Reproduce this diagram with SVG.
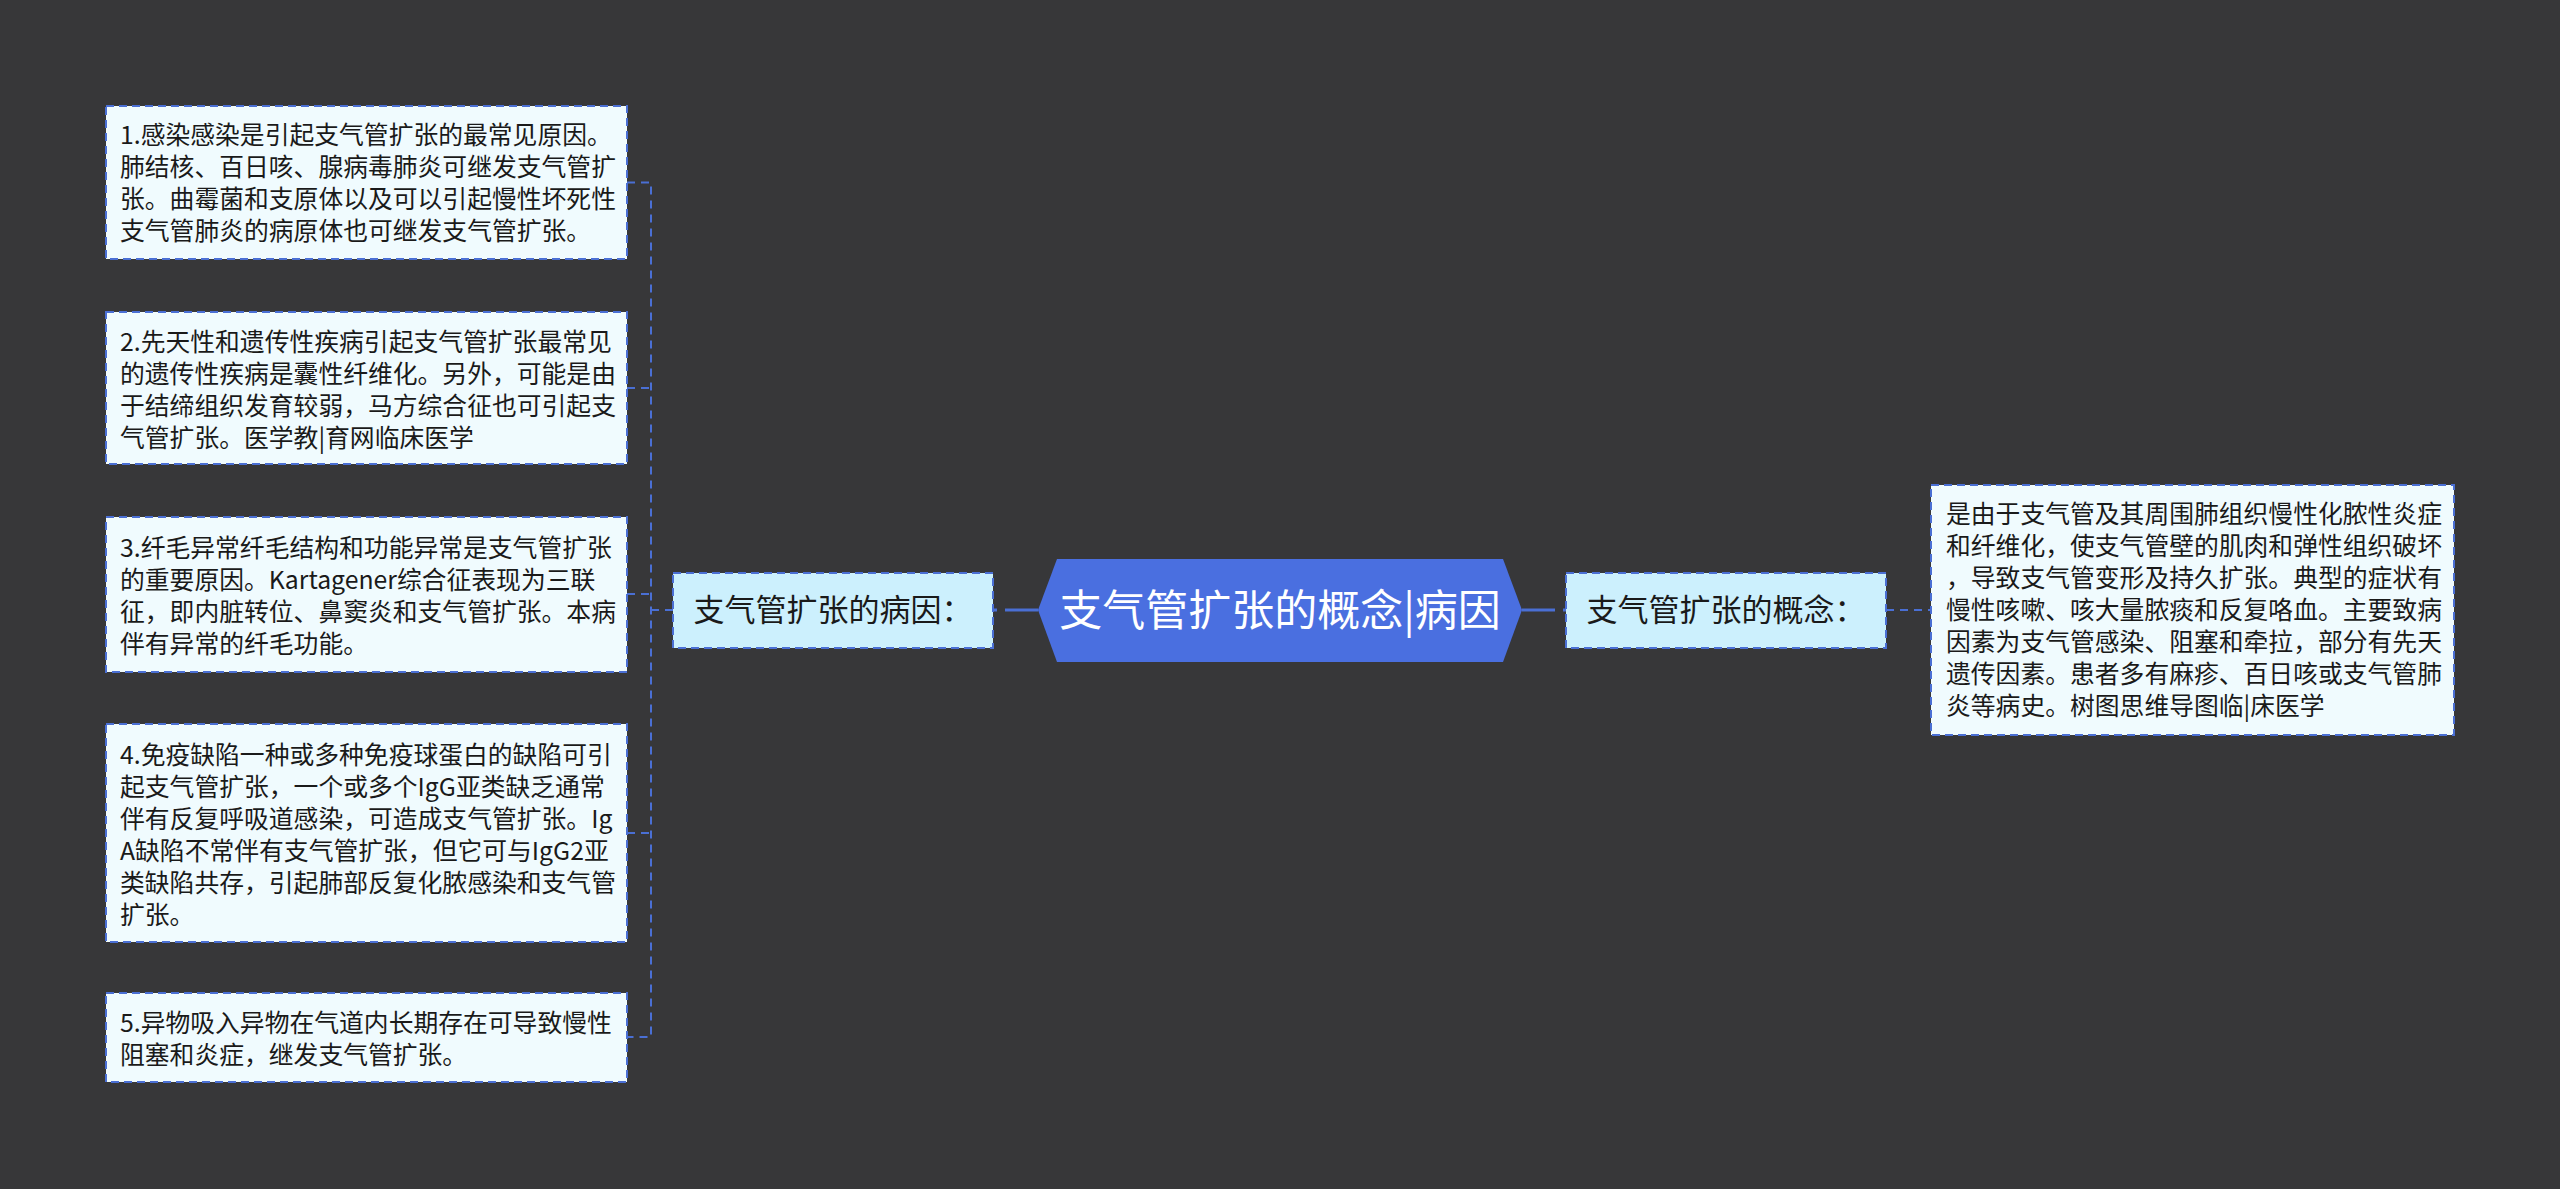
<svg xmlns="http://www.w3.org/2000/svg" width="2560" height="1189" viewBox="0 0 2560 1189">
<style>
.bg{fill:#373739}
.leaf{fill:#f0fbfe;stroke:#4a6fd4;stroke-width:2;stroke-dasharray:8 5}
.branch{fill:#ccf0fd;stroke:#4a6fd4;stroke-width:2;stroke-dasharray:8 5}
.root{fill:#4a6fe0}
.t{font-family:"Noto Sans CJK SC","Microsoft YaHei",sans-serif;fill:#1a1a1a}
.leaft{font-size:24.8px}
.brt{font-size:31px;text-anchor:middle}
.roott{font-size:43px;fill:#ffffff;text-anchor:middle}
.con{fill:none;stroke:#4a6fd4;stroke-width:2;stroke-dasharray:8 6}
.main{fill:none;stroke:#4a6fd4;stroke-width:3;stroke-dasharray:33 8}
</style>
<rect class="bg" x="0" y="0" width="2560" height="1189"/>
<g id="connectors">
<path class="con" d="M627,182.5 H651 V1037 H627"/>
<path class="con" d="M627,388 H651"/>
<path class="con" d="M627,594 H651"/>
<path class="con" d="M627,833 H651"/>
<path class="con" d="M651,610 H673"/>
<path class="main" d="M1038,610 H993"/>
<path class="main" d="M1522,610 H1566"/>
<path class="con" d="M1886,610 H1931"/>
</g>
<g id="root">
<polygon class="root" points="1038,610 1057,559 1503,559 1522,610 1503,662 1057,662"/>
<text class="t roott" x="1280" y="626">支气管扩张的概念|病因</text>
</g>
<g id="branch-cause">
<rect class="branch" x="673" y="573" width="320" height="75"/>
<text class="t brt" x="833" y="621">支气管扩张的病因：</text>
</g>
<g id="branch-concept">
<rect class="branch" x="1566" y="573" width="320" height="75"/>
<text class="t brt" x="1726" y="621">支气管扩张的概念：</text>
</g>
<g id="leaf1">
<rect class="leaf" x="106" y="106" width="521" height="153"/>
<text class="t leaft" x="120" y="144">1.感染感染是引起支气管扩张的最常见原因。</text>
<text class="t leaft" x="120" y="176">肺结核、百日咳、腺病毒肺炎可继发支气管扩</text>
<text class="t leaft" x="120" y="208">张。曲霉菌和支原体以及可以引起慢性坏死性</text>
<text class="t leaft" x="120" y="240">支气管肺炎的病原体也可继发支气管扩张。</text>
</g>
<g id="leaf2">
<rect class="leaf" x="106" y="312" width="521" height="152"/>
<text class="t leaft" x="120" y="351">2.先天性和遗传性疾病引起支气管扩张最常见</text>
<text class="t leaft" x="120" y="383">的遗传性疾病是囊性纤维化。另外，可能是由</text>
<text class="t leaft" x="120" y="415">于结缔组织发育较弱，马方综合征也可引起支</text>
<text class="t leaft" x="120" y="447">气管扩张。医学教|育网临床医学</text>
</g>
<g id="leaf3">
<rect class="leaf" x="106" y="517" width="521" height="155"/>
<text class="t leaft" x="120" y="557">3.纤毛异常纤毛结构和功能异常是支气管扩张</text>
<text class="t leaft" x="120" y="589">的重要原因。Kartagener综合征表现为三联</text>
<text class="t leaft" x="120" y="621">征，即内脏转位、鼻窦炎和支气管扩张。本病</text>
<text class="t leaft" x="120" y="653">伴有异常的纤毛功能。</text>
</g>
<g id="leaf4">
<rect class="leaf" x="106" y="724" width="521" height="218"/>
<text class="t leaft" x="120" y="764">4.免疫缺陷一种或多种免疫球蛋白的缺陷可引</text>
<text class="t leaft" x="120" y="796">起支气管扩张，一个或多个IgG亚类缺乏通常</text>
<text class="t leaft" x="120" y="828">伴有反复呼吸道感染，可造成支气管扩张。Ig</text>
<text class="t leaft" x="120" y="860">A缺陷不常伴有支气管扩张，但它可与IgG2亚</text>
<text class="t leaft" x="120" y="892">类缺陷共存，引起肺部反复化脓感染和支气管</text>
<text class="t leaft" x="120" y="924">扩张。</text>
</g>
<g id="leaf5">
<rect class="leaf" x="106" y="993" width="521" height="89"/>
<text class="t leaft" x="120" y="1032">5.异物吸入异物在气道内长期存在可导致慢性</text>
<text class="t leaft" x="120" y="1064">阻塞和炎症，继发支气管扩张。</text>
</g>
<g id="leaf-concept">
<rect class="leaf" x="1931" y="485" width="523" height="250"/>
<text class="t leaft" x="1946" y="523">是由于支气管及其周围肺组织慢性化脓性炎症</text>
<text class="t leaft" x="1946" y="555">和纤维化，使支气管壁的肌肉和弹性组织破坏</text>
<text class="t leaft" x="1946" y="587">，导致支气管变形及持久扩张。典型的症状有</text>
<text class="t leaft" x="1946" y="619">慢性咳嗽、咳大量脓痰和反复咯血。主要致病</text>
<text class="t leaft" x="1946" y="651">因素为支气管感染、阻塞和牵拉，部分有先天</text>
<text class="t leaft" x="1946" y="683">遗传因素。患者多有麻疹、百日咳或支气管肺</text>
<text class="t leaft" x="1946" y="715">炎等病史。树图思维导图临|床医学</text>
</g>
</svg>
